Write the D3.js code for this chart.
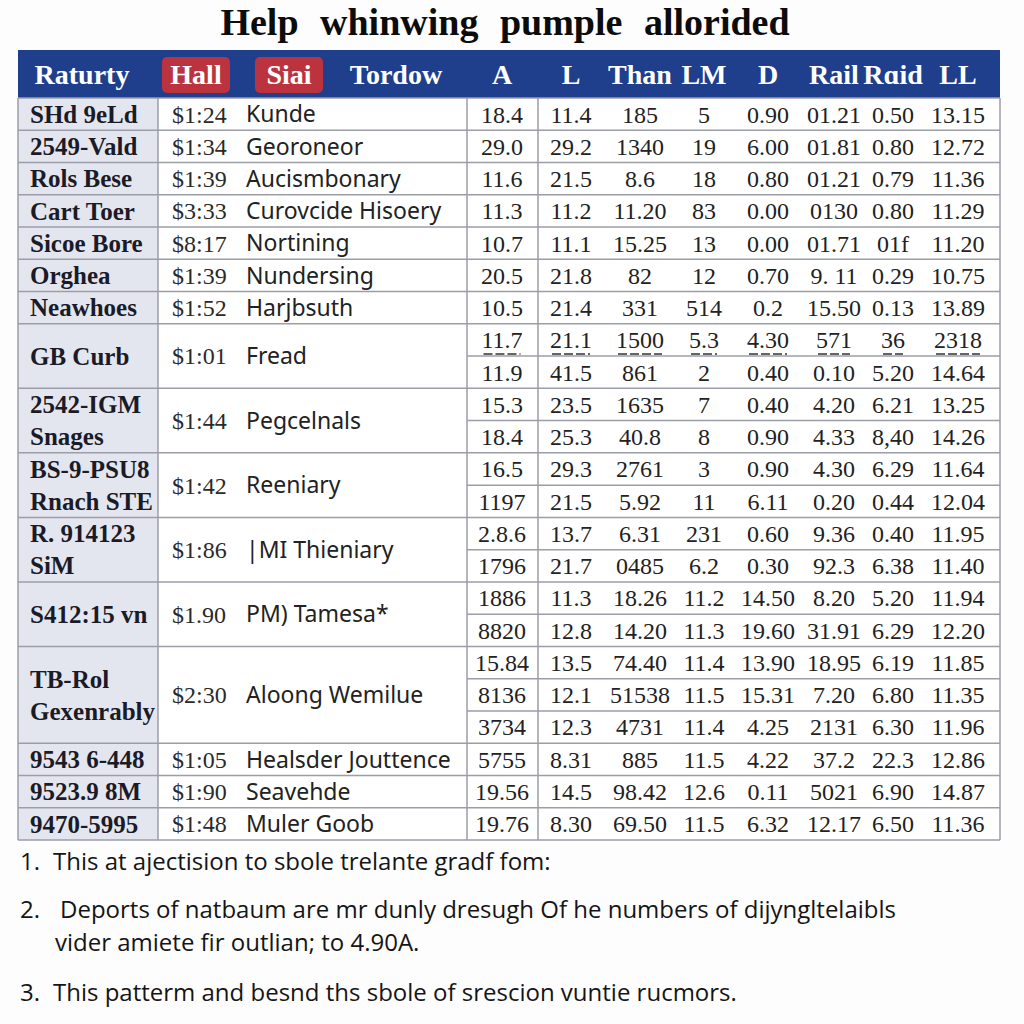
<!DOCTYPE html>
<html>
<meta charset="utf-8">
<title>Help whinwing pumple allorided</title>
<script src="https://d3js.org/d3.v7.min.js" charset="utf-8"></script>
<style>
	body { margin: 0; background: #fdfdfd; }
	.num { font-family: "Liberation Serif", serif; font-size: 24px; fill: #222; }
	.lab { font-family: "Liberation Serif", serif; font-weight: bold; font-size: 25px; fill: #1b1b28; }
	.price { font-family: "Liberation Serif", serif; font-size: 24px; fill: #2a2a2a; }
	.name { font-family: "Noto Sans", sans-serif; font-size: 23px; fill: #222; }
	.head { font-family: "Liberation Serif", serif; font-weight: bold; font-size: 28px; fill: #fff; }
	.note { font-family: "Open Sans", sans-serif; font-size: 24px; fill: #151515; }
</style>
<body>
<script>

	var title = "Help whinwing pumple allorided";

	var leftHeaders = ["Raturty", "Hall", "Siai", "Tordow"];
	var redHeaders = ["Hall", "Siai"];
	var columns = ["A", "L", "Than", "LM", "D", "Rail", "Rɑid", "LL"];

	var groupLabels = [
		["SHd 9eLd"], ["2549-Vald"], ["Rols Bese"], ["Cart Toer"], ["Sicoe Bore"],
		["Orghea"], ["Neawhoes"], ["GB Curb"], ["2542-IGM", "Snages"],
		["BS-9-PSU8", "Rnach STE"], ["R. 914123", "SiM"], ["S412:15 vn"],
		["TB-Rol", "Gexenrably"], ["9543 6-448"], ["9523.9 8M"], ["9470-5995"]
	];
	var groupPrices = ["$1:24", "$1:34", "$1:39", "$3:33", "$8:17", "$1:39", "$1:52",
		"$1:01", "$1:44", "$1:42", "$1:86", "$1.90", "$2:30", "$1:05", "$1:90", "$1:48"];
	var groupNames = ["Kunde", "Georoneor", "Aucismbonary", "Curovcide Hisoery", "Nortining",
		"Nundersing", "Harjbsuth", "Fread", "Pegcelnals", "Reeniary", "|MI Thieniary",
		"PM) Tamesa*", "Aloong Wemilue", "Healsder Jouttence", "Seavehde", "Muler Goob"];

	// group index of every table row
	var rowGroup = [0, 1, 2, 3, 4, 5, 6, 7, 7, 8, 8, 9, 9, 10, 10, 11, 11, 12, 12, 12, 13, 14, 15];
	var underlinedRows = [7];

	var rowValues = [
		["18.4", "11.4", "185", "5", "0.90", "01.21", "0.50", "13.15"],
		["29.0", "29.2", "1340", "19", "6.00", "01.81", "0.80", "12.72"],
		["11.6", "21.5", "8.6", "18", "0.80", "01.21", "0.79", "11.36"],
		["11.3", "11.2", "11.20", "83", "0.00", "0130", "0.80", "11.29"],
		["10.7", "11.1", "15.25", "13", "0.00", "01.71", "01f", "11.20"],
		["20.5", "21.8", "82", "12", "0.70", "9. 11", "0.29", "10.75"],
		["10.5", "21.4", "331", "514", "0.2", "15.50", "0.13", "13.89"],
		["11.7", "21.1", "1500", "5.3", "4.30", "571", "36", "2318"],
		["11.9", "41.5", "861", "2", "0.40", "0.10", "5.20", "14.64"],
		["15.3", "23.5", "1635", "7", "0.40", "4.20", "6.21", "13.25"],
		["18.4", "25.3", "40.8", "8", "0.90", "4.33", "8,40", "14.26"],
		["16.5", "29.3", "2761", "3", "0.90", "4.30", "6.29", "11.64"],
		["1197", "21.5", "5.92", "11", "6.11", "0.20", "0.44", "12.04"],
		["2.8.6", "13.7", "6.31", "231", "0.60", "9.36", "0.40", "11.95"],
		["1796", "21.7", "0485", "6.2", "0.30", "92.3", "6.38", "11.40"],
		["1886", "11.3", "18.26", "11.2", "14.50", "8.20", "5.20", "11.94"],
		["8820", "12.8", "14.20", "11.3", "19.60", "31.91", "6.29", "12.20"],
		["15.84", "13.5", "74.40", "11.4", "13.90", "18.95", "6.19", "11.85"],
		["8136", "12.1", "51538", "11.5", "15.31", "7.20", "6.80", "11.35"],
		["3734", "12.3", "4731", "11.4", "4.25", "2131", "6.30", "11.96"],
		["5755", "8.31", "885", "11.5", "4.22", "37.2", "22.3", "12.86"],
		["19.56", "14.5", "98.42", "12.6", "0.11", "5021", "6.90", "14.87"],
		["19.76", "8.30", "69.50", "11.5", "6.32", "12.17", "6.50", "11.36"]
	];

	var noteNums = ["1.", "2.", "", "3."];
	var noteTexts = [
		"This at ajectision to sbole trelante gradf fom:",
		"Deports of natbaum are mr dunly dresugh Of he numbers of dijyngltelaibls",
		"vider amiete fir outlian; to 4.90A.",
		"This patterm and besnd ths sbole of srescion vuntie rucmors."
	];

	var width = 1024, height = 1024;
	var table = {left: 18, right: 1000, top: 98, bottom: 840, headTop: 50};
	var lineColor = "#9b9da8";

	var svg = d3.select("body").append("svg")
		.attr("width", width)
		.attr("height", height);

	svg.append("rect").attr("width", width).attr("height", height).attr("fill", "#fdfdfd");

	svg.append("text")
		.attr("x", 505).attr("y", 35)
		.attr("text-anchor", "middle")
		.style("font-family", "'Liberation Serif', serif")
		.style("font-weight", "bold")
		.style("font-size", "38px")
		.style("word-spacing", "12px")
		.attr("fill", "#0c0c0c")
		.text(title);

	/* scales */
	var y = d3.scaleBand().domain(d3.range(rowValues.length)).range([table.top, table.bottom]);
	var xCol = d3.scaleOrdinal().domain(columns).range([502, 571, 640, 704, 768, 834, 893, 958]);
	var xLeft = d3.scaleOrdinal().domain(leftHeaders).range([82, 196, 289, 396]);

	/* header bar */
	svg.append("rect")
		.attr("x", table.left).attr("y", table.headTop)
		.attr("width", table.right - table.left).attr("height", table.top - table.headTop)
		.attr("fill", "#1f3f8c");

	svg.selectAll(".redbox")
		.data(redHeaders)
		.enter().append("rect")
		.attr("class", "redbox")
		.attr("x", function(d) { return xLeft(d) - 34; })
		.attr("y", 57)
		.attr("width", 68).attr("height", 36)
		.attr("rx", 5)
		.attr("fill", "#bc3340");

	svg.selectAll(".headL")
		.data(leftHeaders)
		.enter().append("text")
		.attr("class", "head")
		.attr("x", function(d) { return xLeft(d); })
		.attr("y", 84)
		.attr("text-anchor", "middle")
		.text(function(d) { return d; });

	svg.selectAll(".headC")
		.data(columns)
		.enter().append("text")
		.attr("class", "head")
		.attr("x", function(d) { return xCol(d); })
		.attr("y", 84)
		.attr("text-anchor", "middle")
		.text(function(d) { return d; });

	/* body backgrounds */
	svg.append("rect")
		.attr("x", table.left).attr("y", table.top)
		.attr("width", table.right - table.left).attr("height", table.bottom - table.top)
		.attr("fill", "#fff");
	svg.append("rect")
		.attr("x", table.left).attr("y", table.top)
		.attr("width", 158 - table.left).attr("height", table.bottom - table.top)
		.attr("fill", "#e4e6ef");

	/* group extents */
	var groups = groupLabels.map(function(lab, g) {
		var rows = d3.range(rowValues.length).filter(function(r) { return rowGroup[r] === g; });
		var y0 = y(rows[0]), y1 = y(rows[rows.length - 1]) + y.bandwidth();
		return {g: g, y0: y0, y1: y1, mid: (y0 + y1) / 2};
	});

	/* horizontal lines */
	svg.selectAll(".rline")
		.data(d3.range(rowValues.length))
		.enter().append("line")
		.attr("x1", function(r) { return (r === rowValues.length - 1 || rowGroup[r] !== rowGroup[r + 1]) ? table.left : 467; })
		.attr("x2", table.right)
		.attr("y1", function(r) { return y(r) + y.bandwidth(); })
		.attr("y2", function(r) { return y(r) + y.bandwidth(); })
		.attr("stroke", lineColor).attr("stroke-width", 1.5);

	svg.append("line")
		.attr("x1", table.left).attr("x2", table.right)
		.attr("y1", table.top).attr("y2", table.top)
		.attr("stroke", lineColor).attr("stroke-width", 1.5);

	/* vertical lines */
	svg.selectAll(".vline")
		.data([table.left, 158, 467, 538, table.right])
		.enter().append("line")
		.attr("x1", function(d) { return d; }).attr("x2", function(d) { return d; })
		.attr("y1", table.top).attr("y2", table.bottom)
		.attr("stroke", lineColor).attr("stroke-width", 1.5);

	/* group labels */
	groups.forEach(function(gr) {
		var lines = groupLabels[gr.g];
		lines.forEach(function(t, i) {
			svg.append("text")
				.attr("class", "lab")
				.attr("x", 30)
				.attr("y", gr.mid + (i - (lines.length - 1) / 2) * 32)
				.attr("dy", "0.35em")
				.text(t);
		});
		svg.append("text")
			.attr("class", "price")
			.attr("x", 172).attr("y", gr.mid).attr("dy", "0.35em")
			.text(groupPrices[gr.g]);
		svg.append("text")
			.attr("class", "name")
			.attr("x", 246).attr("y", gr.mid).attr("dy", "0.36em")
			.text(groupNames[gr.g]);
	});

	/* numbers */
	var row = svg.selectAll(".row")
		.data(rowValues)
		.enter().append("g")
		.attr("class", "row")
		.attr("transform", function(d, i) { return "translate(0," + (y(i) + y.bandwidth() / 2) + ")"; });

	row.selectAll("text")
		.data(function(d) { return d; })
		.enter().append("text")
		.attr("class", "num")
		.attr("x", function(d, i) { return xCol(columns[i]); })
		.attr("dy", "0.35em")
		.attr("text-anchor", "middle")
		.text(function(d) { return d; });

	row.filter(function(d, i) { return underlinedRows.indexOf(i) >= 0; })
		.each(function() {
			var g = d3.select(this);
			g.selectAll("text").each(function() {
				var w = this.getComputedTextLength(), cx = +d3.select(this).attr("x");
				g.append("line")
					.attr("x1", cx - w / 2 + 2).attr("x2", cx + w / 2 - 2)
					.attr("y1", 14).attr("y2", 14)
					.attr("stroke", "#333").attr("stroke-width", 1.5)
					.attr("stroke-dasharray", "9,3");
			});
		});

	/* footnotes */
	var noteY = d3.scaleOrdinal().domain(d3.range(noteTexts.length)).range([870, 918, 951, 1001]);

	svg.selectAll(".noteNum")
		.data(noteNums)
		.enter().append("text")
		.attr("class", "note")
		.attr("x", 20)
		.attr("y", function(d, i) { return noteY(i); })
		.text(function(d) { return d; });

	svg.selectAll(".noteText")
		.data(noteTexts)
		.enter().append("text")
		.attr("class", "note")
		.attr("x", function(d, i) { return i === 1 ? 60 : (i === 2 ? 55 : 53); })
		.attr("y", function(d, i) { return noteY(i); })
		.text(function(d) { return d; });

</script>
</body>
</html>
